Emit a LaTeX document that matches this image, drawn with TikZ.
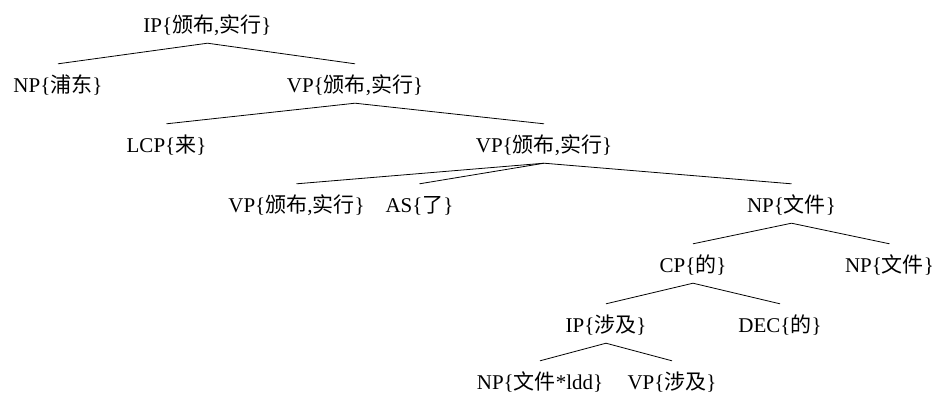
\documentclass[tikz,border=0pt]{standalone}
\usepackage{fontspec}
\setmainfont{Liberation Serif}
\newfontfamily\cjk{Noto Sans CJK SC}
\newcommand{\zh}[1]{{\cjk #1}}
\tikzset{
  tn/.style={inner sep=0pt, text height=28pt, text depth=11pt, anchor=base,
    font=\fontsize{21}{21}\selectfont},
  br/.style={line width=0.8pt}
}
\begin{document}
\begin{tikzpicture}[x=1pt,y=-1pt]
\useasboundingbox (0,0) rectangle (936,392);
\node[tn] (ip0) at (207.5,32) {IP\{\zh{颁布},\zh{实行}\}};
\node[tn] (np1) at (58,92) {NP\{\zh{浦东}\}};
\node[tn] (vp1) at (355,92) {VP\{\zh{颁布},\zh{实行}\}};
\node[tn] (lcp) at (166.5,152) {LCP\{\zh{来}\}};
\node[tn] (vp2) at (544,152) {VP\{\zh{颁布},\zh{实行}\}};
\node[tn] (vp3) at (296.5,212) {VP\{\zh{颁布},\zh{实行}\}};
\node[tn] (as) at (419.5,212) {AS\{\zh{了}\}};
\node[tn] (np3) at (791.5,212) {NP\{\zh{文件}\}};
\node[tn] (cp) at (693,272) {CP\{\zh{的}\}};
\node[tn] (np4) at (889.5,272) {NP\{\zh{文件}\}};
\node[tn] (ip5) at (606,332) {IP\{\zh{涉及}\}};
\node[tn] (dec) at (780,332) {DEC\{\zh{的}\}};
\node[tn] (np6) at (540,389) {NP\{\zh{文件}*ldd\}};
\node[tn] (vp6) at (672,389) {VP\{\zh{涉及}\}};
\draw[br] (np1.north) -- (ip0.south) -- (vp1.north);
\draw[br] (lcp.north) -- (vp1.south) -- (vp2.north);
\draw[br] (vp3.north) -- (vp2.south) -- (np3.north);
\draw[br] (as.north) -- (vp2.south);
\draw[br] (cp.north) -- (np3.south) -- (np4.north);
\draw[br] (ip5.north) -- (cp.south) -- (dec.north);
\draw[br] (np6.north) -- (ip5.south) -- (vp6.north);
\end{tikzpicture}
\end{document}
